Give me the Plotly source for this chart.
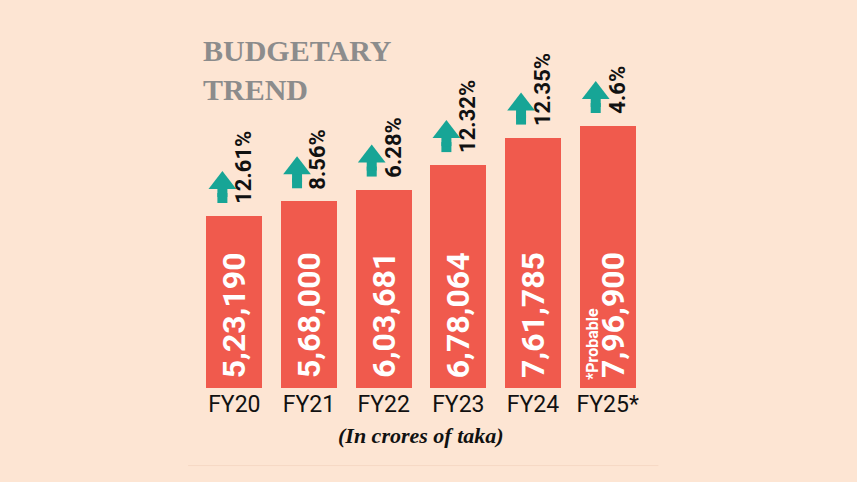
import plotly.graph_objects as go

categories = ["FY20", "FY21", "FY22", "FY23", "FY24", "FY25*"]
values = [523190, 568000, 603681, 678064, 761785, 796900]
value_labels = ["5,23,190", "5,68,000", "6,03,681", "6,78,064", "7,61,785", "7,96,900"]
growth = ["12.61%", "8.56%", "6.28%", "12.32%", "12.35%", "4.6%"]

BG = "#fde5d3"
RED = "#f05a4d"
TEAL = "#17a596"
UPP = 3042.0  # data units per pixel
COND = "Liberation Sans Narrow, Roboto, Arial Narrow, sans-serif"

xs = list(range(len(categories)))
fig = go.Figure()
fig.add_trace(go.Bar(x=xs, y=values, width=0.75, marker=dict(color=RED, line_width=0), hoverinfo="skip"))

# arrows: stem + head
for off in (18, 24):
    fig.add_trace(go.Scatter(x=[i - 0.16 for i in xs], y=[v + off * UPP for v in values], mode="markers",
                             marker=dict(symbol="square", size=10, color=TEAL), hoverinfo="skip"))
fig.add_trace(go.Scatter(x=[i - 0.16 for i in xs], y=[v + 33 * UPP for v in values], mode="markers",
                         marker=dict(symbol="triangle-up", size=24, color=TEAL), hoverinfo="skip"))

ann = []
for i, (v, lab, g) in enumerate(zip(values, value_labels, growth)):
    ann.append(dict(x=i + (0.07 if i == 5 else 0), y=0, yshift=8, text="<b>%s</b>" % lab, textangle=-90,
                    showarrow=False, yanchor="bottom", xanchor="center",
                    font=dict(family=COND, size=32, color="white")))
    ann.append(dict(x=i + 0.12, y=v, yshift=10, text="<b>%s</b>" % g, textangle=-90, showarrow=False,
                    yanchor="bottom", xanchor="center", font=dict(family=COND, size=22, color="#111")))
ann.append(dict(x=5 - 0.21, y=0, yshift=6, text="<b>*Probable</b>", textangle=-90, showarrow=False,
                yanchor="bottom", xanchor="center", font=dict(family=COND, size=16, color="white")))
ann.append(dict(xref="paper", yref="paper", x=0.01, y=1.0, yshift=-32, xanchor="left", yanchor="top",
                text="<b>BUDGETARY<br>TREND</b>", showarrow=False, align="left",
                font=dict(family="Liberation Serif, DejaVu Serif, serif", size=30, color="#8c8c8c")))
ann.append(dict(xref="paper", yref="paper", x=0.5, y=0, yshift=-62, xanchor="center", yanchor="bottom",
                text="<b><i>(In crores of taka)</i></b>", showarrow=False,
                font=dict(family="Liberation Serif, DejaVu Serif, serif", size=22, color="#111")))

fig.update_layout(
    width=857, height=482, paper_bgcolor=BG, plot_bgcolor=BG, showlegend=False,
    margin=dict(l=197, r=212, t=0, b=94), annotations=ann, bargap=0,
    xaxis=dict(range=[-0.5, 5.5], tickvals=xs, ticktext=categories, showgrid=False, zeroline=False,
               showline=False, ticks="", tickfont=dict(family=COND, size=23, color="#111")),
    yaxis=dict(range=[0, 388 * UPP], visible=False, fixedrange=True),
    shapes=[dict(type="line", xref="paper", yref="paper", x0=-0.02, x1=1.03, y0=-0.2, y1=-0.2,
                 line=dict(color="#f6d8c4", width=1))],
)
fig.write_html("out.html", config={"displayModeBar": False})
with open("out.html", encoding="utf-8") as f:
    html = f.read()
html = html.replace("<body>", '<body style="margin:0;background:%s">' % BG, 1)
with open("out.html", "w", encoding="utf-8") as f:
    f.write(html)
